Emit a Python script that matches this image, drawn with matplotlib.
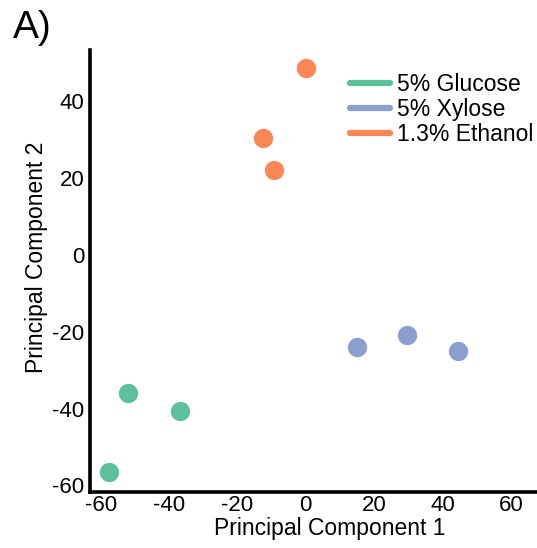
import matplotlib.pyplot as plt
from matplotlib.lines import Line2D

plt.rcParams["font.family"] = ["Liberation Sans", "DejaVu Sans"]
plt.rcParams["axes.unicode_minus"] = False

groups = ["5% Glucose", "5% Xylose", "1.3% Ethanol"]
colors = ["#5cc09b", "#8a9fcf", "#fb8656"]

glucose_pc1 = [-51.9, -36.7, -57.4]
glucose_pc2 = [-35.9, -40.6, -56.4]
xylose_pc1 = [15.0, 29.7, 44.4]
xylose_pc2 = [-24.0, -20.8, -24.9]
ethanol_pc1 = [0.0, -12.4, -9.3]
ethanol_pc2 = [48.6, 30.5, 22.2]

ticks = [-60, -40, -20, 0, 20, 40, 60]
yticks = [-60, -40, -20, 0, 20, 40]

fig = plt.figure(figsize=(5.37, 5.48), dpi=100)
ax = fig.add_axes([0.1676, 0.1022, 0.8324, 0.8066])

data = [(glucose_pc1, glucose_pc2), (xylose_pc1, xylose_pc2), (ethanol_pc1, ethanol_pc2)]
for (xs, ys), c in zip(data, colors):
    ax.scatter(xs, ys, s=210, color=c, edgecolors="white", linewidths=0.6, zorder=3)

ax.set_xlim(-63.1, 67.6)
ax.set_ylim(-61.7, 53.3)
ax.set_xticks(ticks)
ax.set_yticks(yticks)
ax.tick_params(length=0, labelsize=16)
ax.tick_params(axis="x", pad=2)
ax.tick_params(axis="y", pad=4)

for side in ["top", "right"]:
    ax.spines[side].set_visible(False)
for side in ["left", "bottom"]:
    ax.spines[side].set_linewidth(2.6)

ax.set_xlabel("Principal Component 1", fontsize=16.5, labelpad=1, x=0.537)
ax.set_ylabel("Principal Component 2", fontsize=16.5, labelpad=3, y=0.53)

handles = [Line2D([0], [0], color=c, lw=4.5, solid_capstyle="round") for c in colors]
fig.legend(handles, groups, loc="upper left", bbox_to_anchor=(0.652, 0.8665),
           frameon=False, fontsize=16.5, handlelength=1.75, handletextpad=0.28,
           labelspacing=0.09, borderpad=0, borderaxespad=0)

fig.text(0.024, 0.981, "A)", fontsize=28, va="top", ha="left")

fig.savefig("out.png", dpi=100)
